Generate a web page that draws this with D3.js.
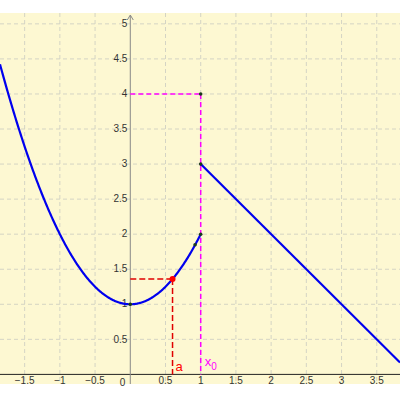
<!DOCTYPE html>
<html><head><meta charset="utf-8">
<script src="https://cdn.jsdelivr.net/npm/d3@7"></script>
<style>body{margin:0;background:#fff}</style>
</head><body>
<svg id="chart" width="400" height="400"></svg>
<script>
// grid / tick values
const xTicks = [-1.5, -1, -0.5, 0.5, 1, 1.5, 2, 2.5, 3, 3.5]
const yTicks = [0.5, 1, 1.5, 2, 2.5, 3, 3.5, 4, 4.5, 5]
const xDomain = [-1.85, 3.83]
const yDomain = [-0.137, 5.155]
// piecewise function breakpoints
const a = 0.6
const x0 = 1
const parabolaX = [-1.85, 1]
const lineX = [1, 3.83]
const markers = [[1, 2], [1, 3], [1, 4], [0, 1], [0.92, 1.85]]

const f1 = (x) => x * x + 1
const f2 = (x) => 4 - x

const svg = d3.select('#chart')
const x = d3.scaleLinear().domain(xDomain).range([0, 400])
const y = d3.scaleLinear().domain(yDomain).range([384, 13])
const font = 'Liberation Sans, Arial, sans-serif'

svg.append('rect').attr('x', 0).attr('y', 13).attr('width', 400).attr('height', 371).attr('fill', '#fdf8d2')

// grid
const grid = svg.append('g').attr('stroke', '#d4d4c4').attr('stroke-dasharray', '4,3').attr('stroke-width', 1)
grid.selectAll('.gx').data(xTicks).join('line')
  .attr('x1', (d) => x(d)).attr('x2', (d) => x(d)).attr('y1', 13).attr('y2', 384)
grid.selectAll('.gy').data(yTicks).join('line')
  .attr('x1', 0).attr('x2', 400).attr('y1', (d) => y(d)).attr('y2', (d) => y(d))

// axes
svg.append('line').attr('x1', 0).attr('x2', 400).attr('y1', y(0)).attr('y2', y(0)).attr('stroke', '#222')
svg.append('line').attr('x1', x(0)).attr('x2', x(0)).attr('y1', 16).attr('y2', 384).attr('stroke', '#888')
svg.append('path').attr('d', `M${x(0) - 3},${20} L${x(0)},${15} L${x(0) + 3},${20}`).attr('fill', 'none').attr('stroke', '#888')

const lab = svg.append('g').attr('font-family', font).attr('font-size', 10).attr('fill', '#333')
lab.selectAll('.tx').data(xTicks).join('text')
  .attr('x', (d) => x(d)).attr('y', y(0) + 6).attr('text-anchor', 'middle')
  .attr('dy', '0.32em').text((d) => (d < 0 ? '\u2212' + Math.abs(d) : d))
lab.selectAll('.ty').data(yTicks).join('text')
  .attr('x', x(0) - 3).attr('y', (d) => y(d)).attr('text-anchor', 'end')
  .attr('dy', '0.32em').text((d) => d)
lab.append('text').attr('x', x(0) - 5).attr('y', y(0) + 8).attr('dy', '0.32em').attr('text-anchor', 'end').text('0')

// dashed helpers
const mag = '#ff00ff'
svg.append('line').attr('x1', x(x0)).attr('x2', x(x0)).attr('y1', y(4)).attr('y2', y(0))
  .attr('stroke', mag).attr('stroke-width', 1.5).attr('stroke-dasharray', '5,3')
svg.append('line').attr('x1', x(0)).attr('x2', x(x0)).attr('y1', y(4)).attr('y2', y(4))
  .attr('stroke', mag).attr('stroke-width', 1.5).attr('stroke-dasharray', '5,3')
svg.append('line').attr('x1', x(a)).attr('x2', x(a)).attr('y1', y(f1(a))).attr('y2', y(0))
  .attr('stroke', '#e00000').attr('stroke-width', 1.5).attr('stroke-dasharray', '6,3')
svg.append('line').attr('x1', x(0)).attr('x2', x(a)).attr('y1', y(f1(a))).attr('y2', y(f1(a)))
  .attr('stroke', '#e00000').attr('stroke-width', 1.5).attr('stroke-dasharray', '6,3')

// curves
const line = d3.line().x((d) => x(d[0])).y((d) => y(d[1]))
const parab = d3.range(parabolaX[0], parabolaX[1] + 0.001, 0.01).map((v) => [v, f1(v)])
svg.append('path').attr('d', line(parab)).attr('fill', 'none').attr('stroke', '#0000ee').attr('stroke-width', 2.2)
svg.append('path').attr('d', line(lineX.map((v) => [v, f2(v)]))).attr('fill', 'none').attr('stroke', '#0000ee').attr('stroke-width', 2.2)

svg.selectAll('.m').data(markers).join('circle')
  .attr('cx', (d) => x(d[0])).attr('cy', (d) => y(d[1])).attr('r', 1.8).attr('fill', '#1a3a1a')
svg.append('circle').attr('cx', x(a)).attr('cy', y(f1(a))).attr('r', 3).attr('fill', '#ff0000')

svg.append('text').attr('x', x(a) + 3).attr('y', y(0) - 3).attr('fill', '#ff0000')
  .attr('font-family', font).attr('font-size', 13).text('a')
const t = svg.append('text').attr('x', x(x0) + 4).attr('y', y(0) - 8).attr('fill', mag)
  .attr('font-family', font).attr('font-size', 13)
t.append('tspan').text('x')
t.append('tspan').attr('font-size', 10).attr('dy', 4).text('0')
</script>
</body></html>
